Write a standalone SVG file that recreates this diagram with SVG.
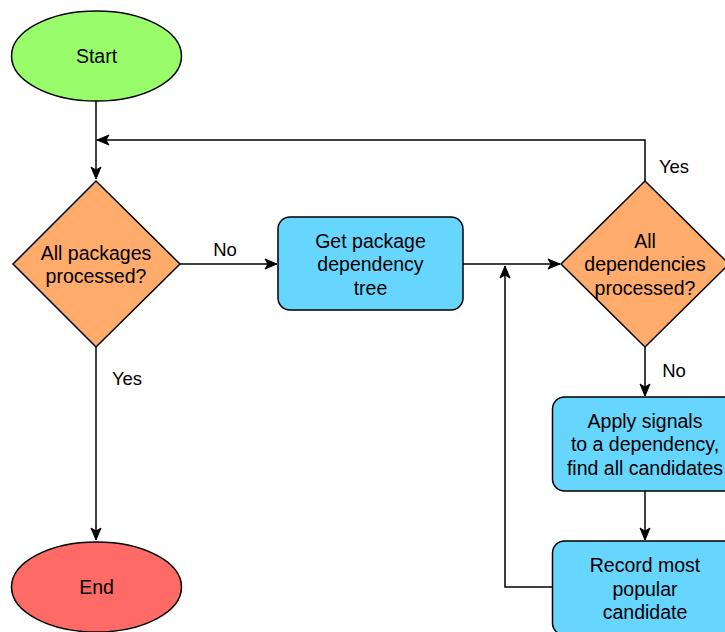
<svg xmlns="http://www.w3.org/2000/svg" width="725" height="632" viewBox="0 0 725 632">
  <style>
    .node { stroke: #000; stroke-width: 1.5; }
    .term-start { fill: #99fd6b; }
    .term-end { fill: #fe6a66; }
    .decision { fill: #feab6b; }
    .process { fill: #66d6ff; }
    .label { font-family: "Liberation Sans", Arial, Helvetica, sans-serif; font-size: 19.5px; fill: #000; text-anchor: middle; }
    .edge-label { font-family: "Liberation Sans", Arial, Helvetica, sans-serif; font-size: 18.5px; fill: #000; text-anchor: middle; }
    .edge { fill: none; stroke: #000; stroke-width: 1.5; }
  </style>
  <defs>
    <marker id="arrow" markerUnits="userSpaceOnUse" markerWidth="14" markerHeight="12" refX="13" refY="6" orient="auto">
      <path d="M1,1 L13,6 L1,11 L4,6 Z" fill="#000" stroke="#000" stroke-width="1"/>
    </marker>
  </defs>

  <rect width="725" height="632" fill="#fff"/>

  <!-- connectors -->
  <g id="connectors">
    <path class="edge" d="M96,101 L96,179" marker-end="url(#arrow)"/>
    <path class="edge" d="M180,264 L277,264" marker-end="url(#arrow)"/>
    <path class="edge" d="M463,264 L560,264" marker-end="url(#arrow)"/>
    <path class="edge" d="M645,181 L645,140 L97,140" marker-end="url(#arrow)"/>
    <path class="edge" d="M645,347 L645,396" marker-end="url(#arrow)"/>
    <path class="edge" d="M645,491 L645,540" marker-end="url(#arrow)"/>
    <path class="edge" d="M552,587 L505,587 L505,266" marker-end="url(#arrow)"/>
    <path class="edge" d="M96,347 L96,540" marker-end="url(#arrow)"/>
    <text class="edge-label" x="225" y="256">No</text>
    <text class="edge-label" x="674" y="173">Yes</text>
    <text class="edge-label" x="127" y="385">Yes</text>
    <text class="edge-label" x="674" y="377">No</text>
  </g>

  <!-- nodes -->
  <g id="start">
    <ellipse class="node term-start" cx="96.5" cy="56" rx="85" ry="45"/>
    <text class="label" x="96.5" y="63">Start</text>
  </g>

  <g id="all-packages">
    <polygon class="node decision" points="96,181 180,264 96,347 13,264"/>
    <text class="label" x="96" y="260">All packages</text>
    <text class="label" x="96" y="283">processed?</text>
  </g>

  <g id="get-tree">
    <rect class="node process" x="278" y="217" width="185" height="93" rx="12" ry="12"/>
    <text class="label" x="370.5" y="248">Get package</text>
    <text class="label" x="370.5" y="271">dependency</text>
    <text class="label" x="370.5" y="295">tree</text>
  </g>

  <g id="all-deps">
    <polygon class="node decision" points="645,181 729,264 645,347 561,264"/>
    <text class="label" x="645" y="248">All</text>
    <text class="label" x="645" y="271">dependencies</text>
    <text class="label" x="645" y="295">processed?</text>
  </g>

  <g id="apply-signals">
    <rect class="node process" x="552.5" y="397" width="185" height="94" rx="12" ry="12"/>
    <text class="label" x="645" y="428">Apply signals</text>
    <text class="label" x="645" y="451">to a dependency,</text>
    <text class="label" x="645" y="475">find all candidates</text>
  </g>

  <g id="record-popular">
    <rect class="node process" x="552.5" y="541" width="185" height="94" rx="12" ry="12"/>
    <text class="label" x="645" y="572">Record most</text>
    <text class="label" x="645" y="596">popular</text>
    <text class="label" x="645" y="619">candidate</text>
  </g>

  <g id="end">
    <ellipse class="node term-end" cx="96.5" cy="587" rx="85" ry="45"/>
    <text class="label" x="96.5" y="594">End</text>
  </g>
</svg>
